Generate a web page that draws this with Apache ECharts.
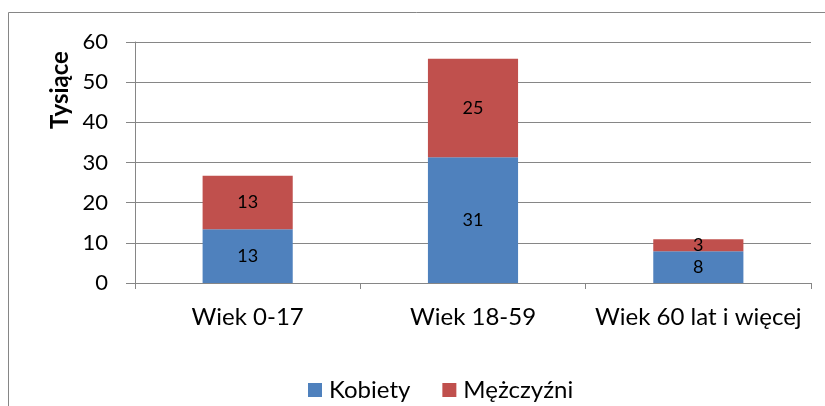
<!DOCTYPE html>
<html><head><meta charset="utf-8">
<script src="https://cdn.jsdelivr.net/npm/echarts@6/dist/echarts.min.js"></script>
<style>html,body{margin:0;padding:0;background:#fff}#c{width:825px;height:406px}</style>
</head><body><div id="c"></div>
<script>
var categories = ['Wiek 0-17', 'Wiek 18-59', 'Wiek 60 lat i więcej'];
var kobiety = [13.4, 31.3, 7.9];
var mezczyzni = [13.3, 24.5, 3.0];
var yTicks = [0, 10, 20, 30, 40, 50, 60];
var seriesNames = ['Kobiety', 'Mężczyźni'];
var axisTitle = 'Tysiące';

var FONT = 'Lato';
var chart = echarts.init(document.getElementById('c'), null, {renderer: 'canvas'});
var lbl = {show: true, position: 'inside', color: '#000', fontFamily: FONT, fontSize: 18,
  formatter: function (p) { return Math.round(p.value); }};
chart.setOption({
  animation: false,
  backgroundColor: '#fff',
  textStyle: {fontFamily: FONT},
  grid: {left: 135, right: 14, top: 42, bottom: 123, containLabel: false},
  legend: {
    data: seriesNames, top: 373, left: 303, itemWidth: 14, itemHeight: 14, itemGap: 32,
    icon: 'rect', textStyle: {fontFamily: FONT, fontSize: 24, color: '#000', padding: [0, 0, 0, 2]}
  },
  graphic: [
    {type: 'polyline', shape: {points: [[8.5, 406], [8.5, 12.5], [825, 12.5]]},
     style: {stroke: '#868686', lineWidth: 1, fill: null}},
    {type: 'text', x: 60, y: 90, rotation: Math.PI / 2,
     style: {text: axisTitle, font: 'bold 24px ' + FONT, fill: '#000', align: 'center', verticalAlign: 'middle'}}
  ],
  xAxis: {
    type: 'category', data: categories,
    axisLine: {lineStyle: {color: '#868686', width: 1}},
    axisTick: {show: true, length: 6, lineStyle: {color: '#868686'}},
    axisLabel: {color: '#000', fontSize: 24, fontFamily: FONT, margin: 22, interval: 0, hideOverlap: false}
  },
  yAxis: {
    type: 'value', min: yTicks[0], max: yTicks[yTicks.length - 1], interval: 10,
    axisLine: {show: true, lineStyle: {color: '#868686', width: 1}},
    axisTick: {show: true, length: 9, lineStyle: {color: '#868686'}},
    splitLine: {lineStyle: {color: '#868686', width: 1}},
    axisLabel: {color: '#000', fontSize: 22, fontFamily: FONT, margin: 27}
  },
  series: [
    {name: seriesNames[0], type: 'bar', stack: 's', data: kobiety, barWidth: '40%',
     itemStyle: {color: '#4F81BD'}, label: lbl},
    {name: seriesNames[1], type: 'bar', stack: 's', data: mezczyzni, barWidth: '40%',
     itemStyle: {color: '#C0504D'}, label: lbl}
  ]
});
</script></body></html>
